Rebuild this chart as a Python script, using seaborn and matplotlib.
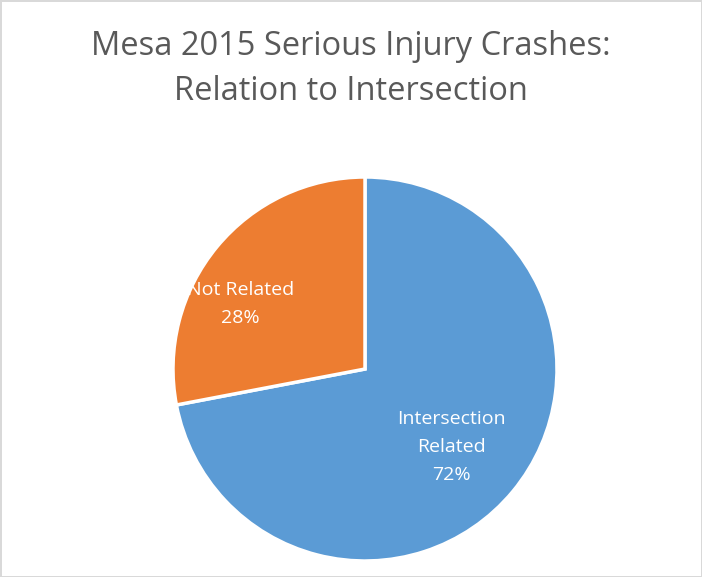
import numpy as np
import matplotlib
matplotlib.use('Agg')
import matplotlib.pyplot as plt
import seaborn as sns

# Data ---------------------------------------------------------------
categories = ['Intersection\nRelated', 'Not Related']
shares = [72, 28]
colors = ['#5B9BD5', '#ED7D31']
title = 'Mesa 2015 Serious Injury Crashes:\nRelation to Intersection'

sns.set_theme(style='white')
plt.rcParams['font.family'] = ['Open Sans', 'DejaVu Sans']

fig = plt.figure(figsize=(7.02, 5.77), dpi=100)
fig.patch.set_edgecolor('#d9d9d9')
fig.patch.set_linewidth(2)

# pie axes: square box around the circle
ax = fig.add_axes([173 / 702, 16 / 577, 384 / 702, 384 / 577])

wedges, texts = ax.pie(
    shares, colors=colors, startangle=90, counterclock=False, radius=1.0,
    wedgeprops=dict(edgecolor='white', linewidth=2.5))
ax.set_xlim(-1, 1)
ax.set_ylim(-1, 1)
ax.set_aspect('equal')

# labels inside the slices (Excel style: name + percent)
label_r = [0.605, 0.73]
label_shift = [-2.5, 12]   # degrees, Excel nudges labels to fit
start = 90
for i, (cat, val) in enumerate(zip(categories, shares)):
    mid = start - val / sum(shares) * 360 / 2
    ang = np.deg2rad(mid + label_shift[i])
    ax.text(label_r[i] * np.cos(ang), label_r[i] * np.sin(ang),
            f'{cat}\n{val}%', ha='center', va='center', color='white',
            fontsize=14, linespacing=1.7)
    start -= val / sum(shares) * 360

fig.text(0.5, 0.88, title, ha='center', va='center', fontsize=23.5,
         color='#595959', linespacing=1.5)

fig.savefig('out.png', dpi=100, edgecolor=fig.get_edgecolor())
